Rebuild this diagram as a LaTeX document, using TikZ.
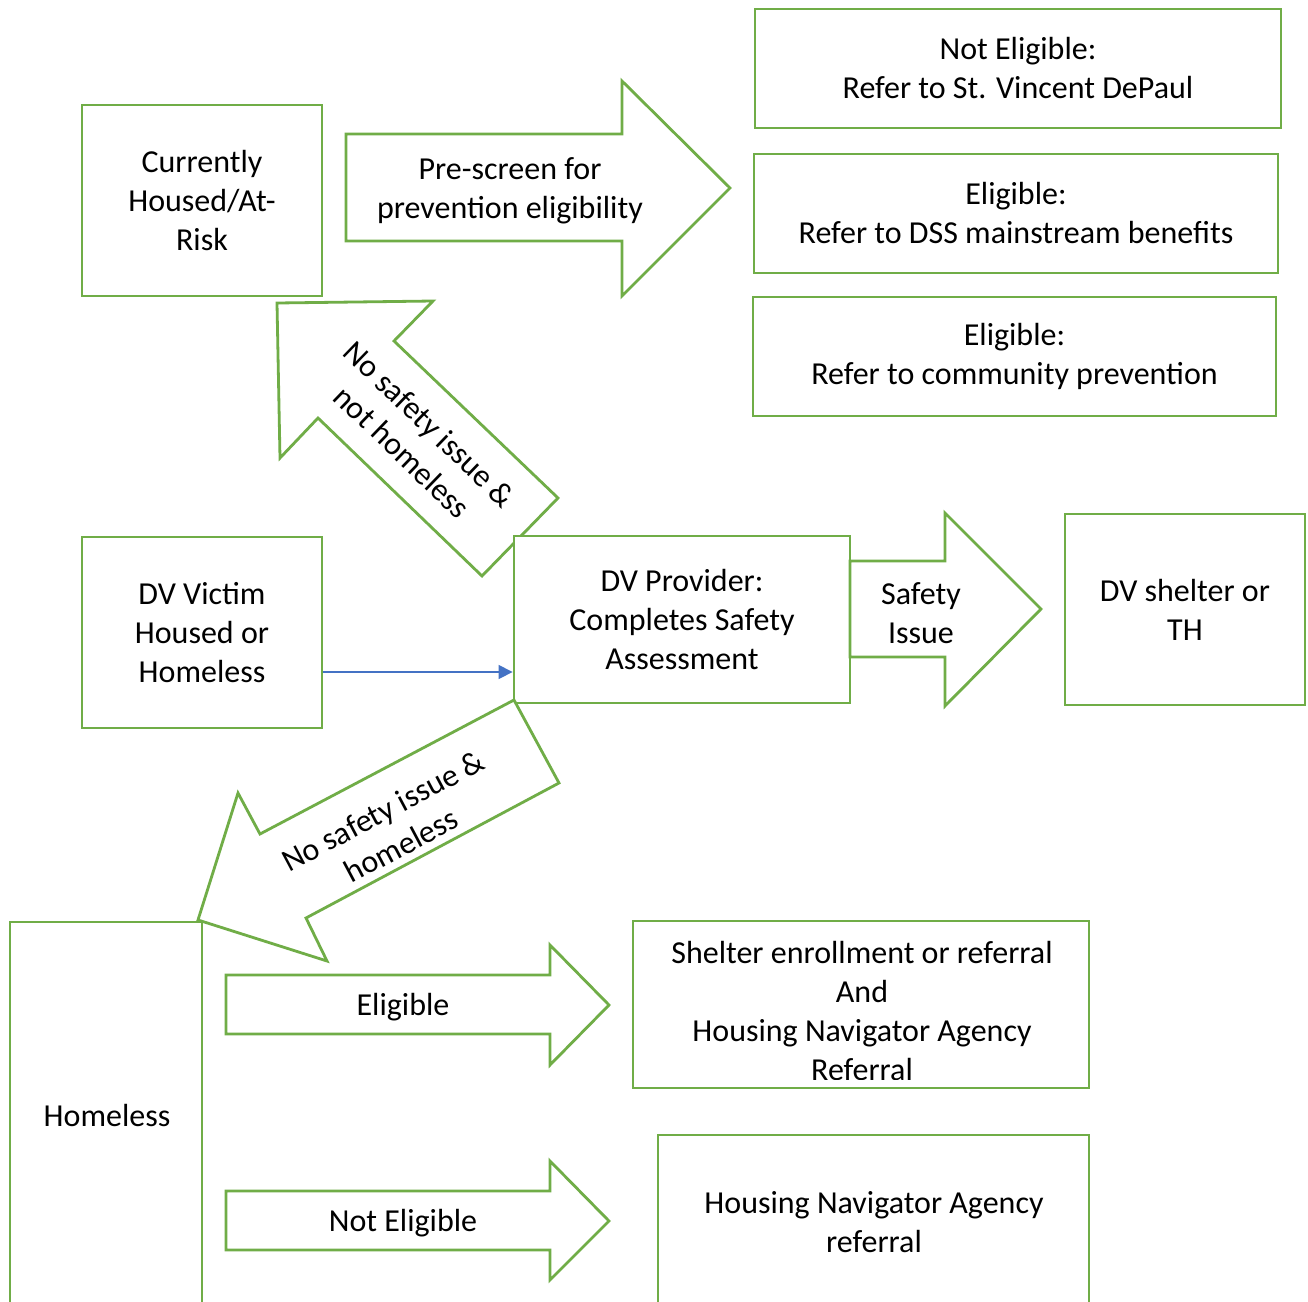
\documentclass[tikz,border=0pt]{standalone}
\usepackage{fontspec}
\setmainfont{Carlito}
\usetikzlibrary{arrows.meta}
\definecolor{grn}{HTML}{70AD47}
\definecolor{blu}{HTML}{4472C4}
\begin{document}
\begin{tikzpicture}[x=0.5pt,y=-0.5pt,
  every node/.style={font=\fontsize{16}{19.5}\selectfont, align=center, inner sep=0pt},
  box/.style={draw=grn, line width=1.4pt, fill=white},
  shp/.style={draw=grn, line width=1.4pt, fill=white, line join=miter},
  open/.style={draw=grn, line width=1.4pt}]
\useasboundingbox[fill=white] (0,0) rectangle (1308,1302);

% top-right boxes
\node[box, minimum width=263pt, minimum height=59.5pt] (notel) at (1018,68.5) {Not Eligible:\\Refer to St. Vincent DePaul};
\node[box, minimum width=262pt, minimum height=59.5pt] (dss) at (1016,213.5) {Eligible:\\Refer to DSS mainstream benefits};
\node[box, minimum width=261.5pt, minimum height=59.5pt] (comm) at (1014.5,356.5) {Eligible:\\Refer to community prevention};

% left boxes
\node[box, minimum width=120pt, minimum height=95.5pt] (housed) at (202,200.5) {Currently\\Housed/At-\\Risk};
\node[box, minimum width=120pt, minimum height=95.5pt] (victim) at (202,632.5) {DV Victim\\Housed or\\Homeless};

% pre-screen arrow
\draw[shp] (346,134) -- (622,134) -- (622,81) -- (730,188) -- (622,296) -- (622,241) -- (346,241) -- cycle;
\node (prescreen) at (510,190.5) {Pre-screen for\\prevention eligibility};

% up-left arrow
\draw[shp] (277,303) -- (433,301) -- (394,341) -- (558,498) -- (482,576) -- (318,418) -- (280,458) -- cycle;
\node[rotate=-44] (nothomeless) at (416,438) {No safety issue \&\\not homeless};

% DV provider
\node[box, minimum width=168pt, minimum height=83.5pt] (provider) at (682,619.5) {DV Provider:\\Completes Safety\\Assessment};

% safety arrow
\draw[shp] (850,561) -- (945,561) -- (945,513) -- (1041,609) -- (945,706) -- (945,657) -- (850,657) -- cycle;
\node (safety) at (921,613) {Safety\\Issue};

\node[box, minimum width=120pt, minimum height=95.5pt] (shelterdv) at (1185,609.5) {DV shelter or\\TH};

% blue connector
\draw[blu, line width=0.65pt, -{Triangle[length=7pt,width=7pt]}] ([yshift=-19.75pt]victim.east) -- ([yshift=-26.25pt]provider.west);

% homeless open box
\draw[open] (10,1302) -- (10,922) -- (202,922) -- (202,1302);
\node (homeless) at (107,1115) {Homeless};

% down-left arrow
\draw[shp] (514,700) -- (559,783) -- (306,918) -- (327,961) -- (198,920) -- (238,793) -- (260,834) -- cycle;
\node[rotate=28] (homelessarrow) at (392,828) {No safety issue \&\\homeless};

% eligible arrows
\draw[shp] (226,975) -- (550,975) -- (550,945) -- (609,1005) -- (550,1065) -- (550,1034) -- (226,1034) -- cycle;
\node (eligible) at (403,1007) {Eligible};
\draw[shp] (226,1191) -- (550,1191) -- (550,1161) -- (609,1221) -- (550,1280) -- (550,1250) -- (226,1250) -- cycle;
\node (noteligible) at (403,1223) {Not Eligible};

% shelter enrollment box with clipped text
\node[box, minimum width=228pt, minimum height=83.5pt] (enroll) at (861,1004.5) {};
\begin{scope}
\clip (634,922) rectangle (1088,1079);
\node (enrolltext) at (862,1011) {Shelter enrollment or referral\\And\\Housing Navigator Agency\\Referral};
\end{scope}

% housing navigator open box
\draw[open] (658,1302) -- (658,1135) -- (1089,1135) -- (1089,1302);
\node (navigator) at (874,1222) {Housing Navigator Agency\\referral};
\end{tikzpicture}
\end{document}
